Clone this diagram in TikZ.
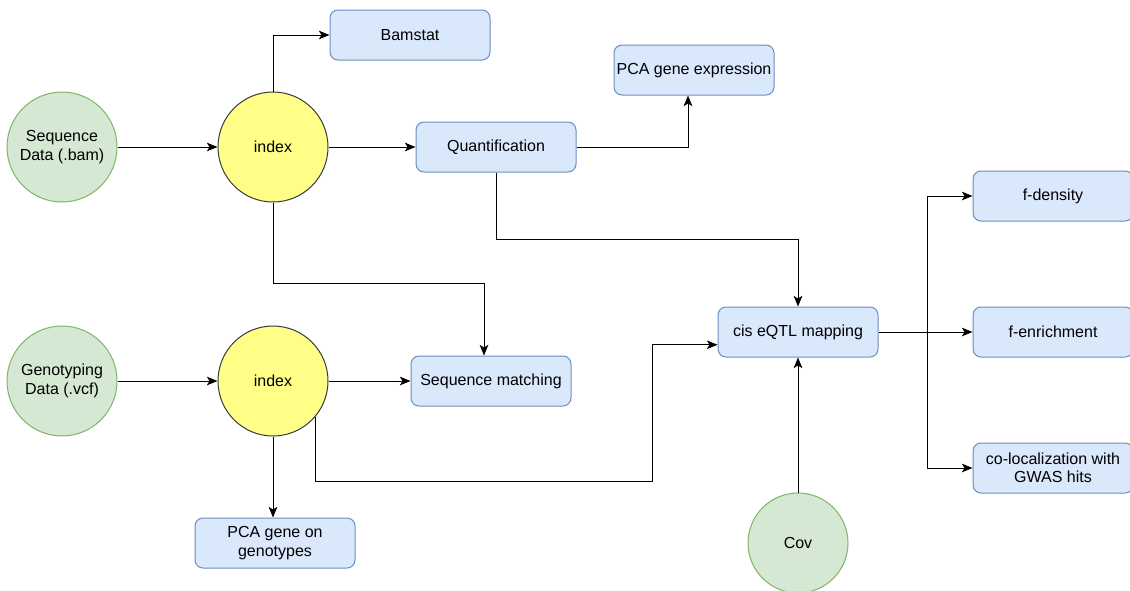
\documentclass[tikz,border=0pt]{standalone}
\usepackage{fontspec}
\setmainfont{Liberation Sans}
\usetikzlibrary{arrows.meta}
\definecolor{datafill}{HTML}{D5E8D4}
\definecolor{datadraw}{HTML}{82B366}
\definecolor{idxfill}{HTML}{FFFF88}
\definecolor{idxdraw}{HTML}{36393D}
\definecolor{stepfill}{HTML}{DAE8FC}
\definecolor{stepdraw}{HTML}{6C8EBF}
\begin{document}
\begin{tikzpicture}[x=0.75pt, y=-0.75pt,
  font=\fontsize{12}{13.8}\selectfont,
  data/.style={circle, fill=datafill, draw=datadraw, line width=0.75pt, minimum size=82.5pt, inner sep=0pt, align=center},
  idx/.style={circle, fill=idxfill, draw=idxdraw, line width=0.75pt, minimum size=82.5pt, inner sep=0pt},
  task/.style={rectangle, rounded corners=6pt, fill=stepfill, draw=stepdraw, line width=0.75pt, minimum width=120pt, minimum height=37.5pt, inner sep=1pt, align=center},
  arr/.style={-{Stealth[length=8pt, width=6.5pt, inset=2pt]}, line width=0.75pt}]
\useasboundingbox (0,0) rectangle (1130,590);
% inputs
\node[data] (seq) at (62,147) {Sequence\\Data (.bam)};
\node[data] (geno) at (62,381) {Genotyping\\Data (.vcf)};
\node[data, minimum size=75pt] (cov) at (798,543) {Cov};
% index steps
\node[idx] (idx1) at (273,147) {index};
\node[idx] (idx2) at (273,381) {index};
% analyses
\node[task] (bam) at (410,35) {Bamstat};
\node[task] (quant) at (496,147) {Quantification};
\node[task] (pcaexpr) at (694,70) {PCA gene expression};
\node[task] (seqm) at (491,381) {Sequence matching};
\node[task] (pcageno) at (275,543) {PCA gene on\\genotypes};
\node[task] (cis) at (798,332) {cis eQTL mapping};
\node[task] (fden) at (1053,196) {f-density};
\node[task] (fenr) at (1053,332) {f-enrichment};
\node[task] (coloc) at (1053,468) {co-localization with\\GWAS hits};
% bends
\coordinate (j1) at (652,481);
\coordinate (j2) at (484,283);
\coordinate (j3) at (688,147);
\coordinate (j4) at (798,239);
\coordinate (fork) at (927,332);
% connectors
\draw[arr] (seq) -- (idx1);
\draw[arr] (geno) -- (idx2);
\draw[arr] (idx1.north) |- (bam.west);
\draw[arr] (idx1) -- (quant);
\draw[arr] (quant.east) -- (j3) -- (j3 |- pcaexpr.south);
\draw[arr] (quant.south) |- (j4) -- (cis.north);
\draw[arr] (idx1.south) |- (j2) -- (j2 |- seqm.north);
\draw[arr] (idx2) -- (seqm);
\draw[arr] (idx2.south) -- (pcageno.north -| idx2.south);
\draw[arr] (idx2.-40) |- (j1) |- (cis.189);
\draw[arr] (cov.north) -- (cis.south);
\draw[line width=0.75pt] (cis.east) -- (fork);
\foreach \t in {fden,fenr,coloc}{
  \draw[arr] (fork) |- (\t.west);
}
\end{tikzpicture}
\end{document}
